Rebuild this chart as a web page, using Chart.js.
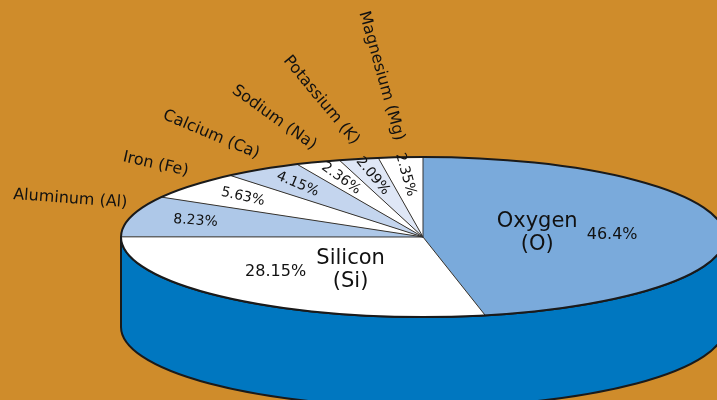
<!DOCTYPE html>
<html>
<head>
<meta charset="utf-8">
<script src="https://cdn.jsdelivr.net/npm/chart.js@4"></script>
<style>
html, body { margin: 0; padding: 0; background: #cf8c2b; }
canvas { display: block; }
</style>
</head>
<body>
<canvas id="crustChart" width="717" height="400"></canvas>
<script>
// 地殻の元素構成（%）
const elementNames = ['Oxygen (O)', 'Silicon (Si)', 'Aluminum (Al)', 'Iron (Fe)', 'Calcium (Ca)', 'Sodium (Na)', 'Potassium (K)', 'Magnesium (Mg)'];
const elementPercents = [46.4, 28.15, 8.23, 5.63, 4.15, 2.36, 2.09, 2.35];
const sliceColors = ['#7aaadb', '#ffffff', '#aec8e8', '#ffffff', '#c4d5ee', '#ffffff', '#dfe7f6', '#ffffff'];

// 楕円の位置と大きさ（画面上）
const CX = 423, CY = 237, RX = 302, RY = 80, DEPTH = 90;
const FONT = '"DejaVu Sans", sans-serif';

function ellPt(t, f) {
    return { x: CX + RX * f * Math.cos(t), y: CY + RY * f * Math.sin(t) };
}

const pie3d = {
    id: 'pie3d',
    beforeDatasetsDraw(chart) {
        const ctx = chart.ctx;
        const a = chart.getDatasetMeta(0).data[0];
        // 側面（円柱）
        ctx.save();
        ctx.beginPath();
        ctx.moveTo(CX - RX, CY);
        ctx.lineTo(CX - RX, CY + DEPTH);
        ctx.ellipse(CX, CY + DEPTH, RX, RY, 0, Math.PI, 0, true);
        ctx.lineTo(CX + RX, CY);
        ctx.ellipse(CX, CY, RX, RY, 0, 0, Math.PI, false);
        ctx.closePath();
        ctx.fillStyle = '#0077c0';
        ctx.fill();
        ctx.lineWidth = 2;
        ctx.strokeStyle = '#1a1a1a';
        ctx.stroke();
        ctx.restore();
        // 上面を楕円につぶす
        ctx.save();
        ctx.translate(CX, CY);
        ctx.scale(RX / a.outerRadius, RY / a.outerRadius);
        ctx.translate(-a.x, -a.y);
    },
    afterDatasetsDraw(chart) {
        const ctx = chart.ctx;
        ctx.restore();
        const arcs = chart.getDatasetMeta(0).data;

        // 区切り線
        ctx.save();
        ctx.strokeStyle = '#333';
        ctx.lineWidth = 1;
        arcs.forEach(arc => {
            const p = ellPt(arc.startAngle, 1);
            ctx.beginPath();
            ctx.moveTo(CX, CY);
            ctx.lineTo(p.x, p.y);
            ctx.stroke();
        });
        ctx.beginPath();
        ctx.ellipse(CX, CY, RX, RY, 0, 0, Math.PI * 2);
        ctx.lineWidth = 2;
        ctx.strokeStyle = '#1a1a1a';
        ctx.stroke();
        ctx.restore();

        // ラベル
        ctx.save();
        ctx.fillStyle = '#111';
        ctx.textBaseline = 'middle';
        arcs.forEach((arc, i) => {
            const mid = (arc.startAngle + arc.endAngle) / 2;
            const name = elementNames[i];
            const pct = elementPercents[i] + '%';
            if (elementPercents[i] > 20) {
                const n = ellPt(mid, 0.38);
                n.y += 12 * Math.sin(mid);
                const lines = name.split(' ');
                ctx.textAlign = 'center';
                ctx.font = '21px ' + FONT;
                ctx.fillText(lines[0], n.x, n.y - 11);
                ctx.fillText(lines[1], n.x, n.y + 12);
                ctx.font = '16px ' + FONT;
                ctx.fillText(pct, n.x + Math.sign(Math.cos(mid)) * 75, n.y + 2);
            } else {
                const p = ellPt(mid, 1);
                const rot = Math.atan2(CY - p.y, CX - p.x);
                ctx.save();
                ctx.translate(p.x, p.y - 13);
                ctx.rotate(rot);
                ctx.textAlign = 'right';
                ctx.font = '16px ' + FONT;
                ctx.fillText(name, -4, 0);
                ctx.restore();

                const q = ellPt(mid, 0.78);
                ctx.save();
                ctx.translate(q.x, q.y);
                ctx.rotate(rot);
                ctx.textAlign = 'center';
                ctx.font = '14px ' + FONT;
                ctx.fillText(pct, 0, 0);
                ctx.restore();
            }
        });
        ctx.restore();
    }
};

new Chart(document.getElementById('crustChart').getContext('2d'), {
    type: 'pie',
    data: {
        labels: elementNames,
        datasets: [{
            data: elementPercents,
            backgroundColor: sliceColors,
            borderWidth: 0,
            hoverOffset: 0,
            clip: false
        }]
    },
    options: {
        responsive: false,
        animation: false,
        plugins: {
            legend: { display: false },
            tooltip: { enabled: false }
        }
    },
    plugins: [pie3d]
});
</script>
</body>
</html>
